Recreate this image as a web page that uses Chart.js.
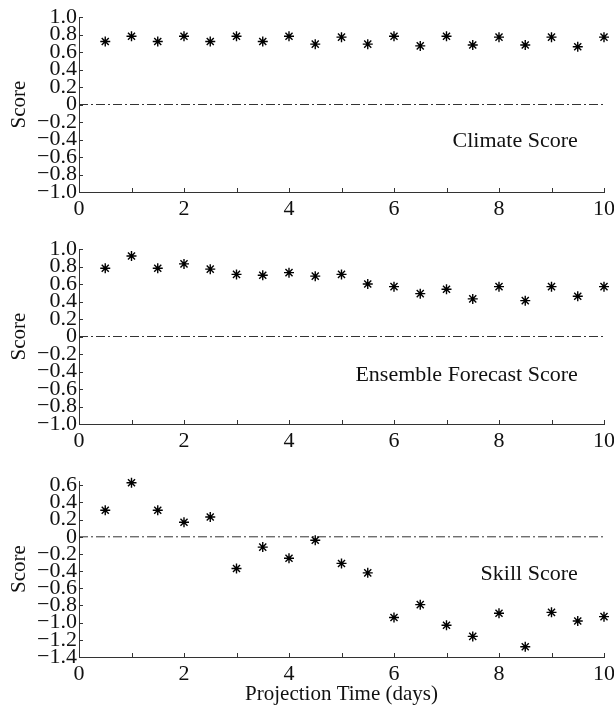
<!DOCTYPE html>
<html>
<head>
<meta charset="utf-8">
<script src="https://cdn.jsdelivr.net/npm/chart.js@4.4.1/dist/chart.umd.min.js"></script>
<style>
  html, body { margin: 0; padding: 0; background: #fff; overflow: hidden; }
  body { width: 614px; height: 707px; position: relative; }
  .panel { position: absolute; left: 0; width: 621px; }
</style>
</head>
<body>
<div class="panel" style="top:0px;height:222px"><canvas id="climate"></canvas></div>
<div class="panel" style="top:232px;height:222px"><canvas id="ensemble"></canvas></div>
<div class="panel" style="top:464px;height:243px"><canvas id="skill"></canvas></div>
<script>
// projection times (days)
const days = [0.5, 1, 1.5, 2, 2.5, 3, 3.5, 4, 4.5, 5, 5.5, 6, 6.5, 7, 7.5, 8, 8.5, 9, 9.5, 10];

// scores
const climateScore = [0.72, 0.78, 0.72, 0.78, 0.72, 0.78, 0.72, 0.78, 0.69, 0.77,
                      0.69, 0.78, 0.67, 0.78, 0.68, 0.77, 0.68, 0.77, 0.66, 0.77];
const ensembleScore = [0.78, 0.92, 0.78, 0.83, 0.77, 0.71, 0.70, 0.73, 0.69, 0.71,
                       0.60, 0.57, 0.49, 0.54, 0.43, 0.57, 0.41, 0.57, 0.46, 0.57];
const skillScore = [0.31, 0.63, 0.31, 0.17, 0.23, -0.37, -0.12, -0.25, -0.04, -0.31,
                    -0.42, -0.94, -0.79, -1.03, -1.16, -0.89, -1.28, -0.88, -0.98, -0.93];

// tick labels
const xTicks = [0, 1, 2, 3, 4, 5, 6, 7, 8, 9, 10];
const xLabels = ['0', '', '2', '', '4', '', '6', '', '8', '', '10'];
const yTicksA = [1.0, 0.8, 0.6, 0.4, 0.2, 0, -0.2, -0.4, -0.6, -0.8, -1.0];
const yLabelsA = ['1.0', '0.8', '0.6', '0.4', '0.2', '0', '\u22120.2', '\u22120.4', '\u22120.6', '\u22120.8', '\u22121.0'];
const yTicksB = [0.6, 0.4, 0.2, 0, -0.2, -0.4, -0.6, -0.8, -1.0, -1.2, -1.4];
const yLabelsB = ['0.6', '0.4', '0.2', '0', '\u22120.2', '\u22120.4', '\u22120.6', '\u22120.8', '\u22121.0', '\u22121.2', '\u22121.4'];

const serif = '"Liberation Serif", "Times New Roman", serif';
const ink = '#111';

// inward tick marks + the panel caption
const panelDecor = {
  id: 'panelDecor',
  afterDraw(chart, args, opts) {
    const { ctx, scales: { x, y } } = chart;
    ctx.save();
    ctx.strokeStyle = '#333';
    ctx.lineWidth = 1;
    x.ticks.forEach(t => {
      const px = Math.round(x.getPixelForValue(t.value)) + 0.5;
      ctx.beginPath();
      ctx.moveTo(px, y.bottom);
      ctx.lineTo(px, y.bottom - 4);
      ctx.stroke();
    });
    y.ticks.forEach(t => {
      const py = Math.round(y.getPixelForValue(t.value)) + 0.5;
      ctx.beginPath();
      ctx.moveTo(x.left, py);
      ctx.lineTo(x.left + 4, py);
      ctx.stroke();
    });
    ctx.font = '22px ' + serif;
    ctx.fillStyle = ink;
    ctx.textAlign = 'right';
    ctx.textBaseline = 'middle';
    ctx.fillText(opts.text, x.getPixelForValue(opts.at[0]), y.getPixelForValue(opts.at[1]));
    ctx.restore();
  }
};

function makePanel(id, values, yTicks, yLabels, yMin, yMax, caption, captionAt, xTitle) {
  const points = days.map((d, i) => ({ x: d, y: values[i] }));
  new Chart(document.getElementById(id), {
    type: 'scatter',
    data: {
      datasets: [{
        data: points,
        pointStyle: 'star',
        pointRadius: 5,
        borderWidth: 1.4,
        borderColor: '#000',
        backgroundColor: '#000',
        clip: false
      }, {
        type: 'line',
        data: [{ x: 0, y: 0 }, { x: 10, y: 0 }],
        borderColor: '#333',
        borderWidth: 1,
        borderDash: [9, 3, 2, 3],
        pointRadius: 0
      }]
    },
    options: {
      responsive: true,
      maintainAspectRatio: false,
      animation: false,
      layout: { padding: { top: 17, left: 0, right: 0, bottom: 0 } },
      plugins: {
        legend: { display: false },
        tooltip: { enabled: false },
        panelDecor: { text: caption, at: captionAt }
      },
      scales: {
        x: {
          type: 'linear',
          min: 0,
          max: 10,
          afterBuildTicks: s => { s.ticks = xTicks.map(v => ({ value: v })); },
          afterFit: s => { s.height = xTitle ? 50 : 30; },
          ticks: {
            autoSkip: false,
            maxRotation: 0,
            padding: 6,
            color: ink,
            font: { family: serif, size: 22, lineHeight: 1 },
            callback: (v) => xLabels[xTicks.indexOf(v)]
          },
          grid: { display: false, drawTicks: false },
          border: { display: true, color: '#333', width: 1 },
          title: {
            display: !!xTitle,
            text: xTitle || '',
            color: ink,
            font: { family: serif, size: 21 },
            padding: { top: 0, bottom: 0 }
          }
        },
        y: {
          type: 'linear',
          min: yMin,
          max: yMax,
          afterBuildTicks: s => { s.ticks = yTicks.map(v => ({ value: v })); },
          afterFit: s => { s.width = 79; },
          ticks: {
            autoSkip: false,
            padding: 2,
            color: ink,
            font: { family: serif, size: 22, lineHeight: 1 },
            callback: (v) => yLabels[yTicks.indexOf(v)]
          },
          grid: { display: false, drawTicks: false },
          border: { display: true, color: '#333', width: 1 },
          title: {
            display: true,
            text: 'Score',
            color: ink,
            font: { family: serif, size: 21 },
            padding: { top: 7, bottom: 0 }
          }
        }
      }
    },
    plugins: [panelDecor]
  });
}

makePanel('climate', climateScore, yTicksA, yLabelsA, -1, 1, 'Climate Score', [9.5, -0.42]);
makePanel('ensemble', ensembleScore, yTicksA, yLabelsA, -1, 1, 'Ensemble Forecast Score', [9.5, -0.44]);
makePanel('skill', skillScore, yTicksB, yLabelsB, -1.4, 0.65, 'Skill Score', [9.5, -0.43], 'Projection Time (days)');
</script>
</body>
</html>
